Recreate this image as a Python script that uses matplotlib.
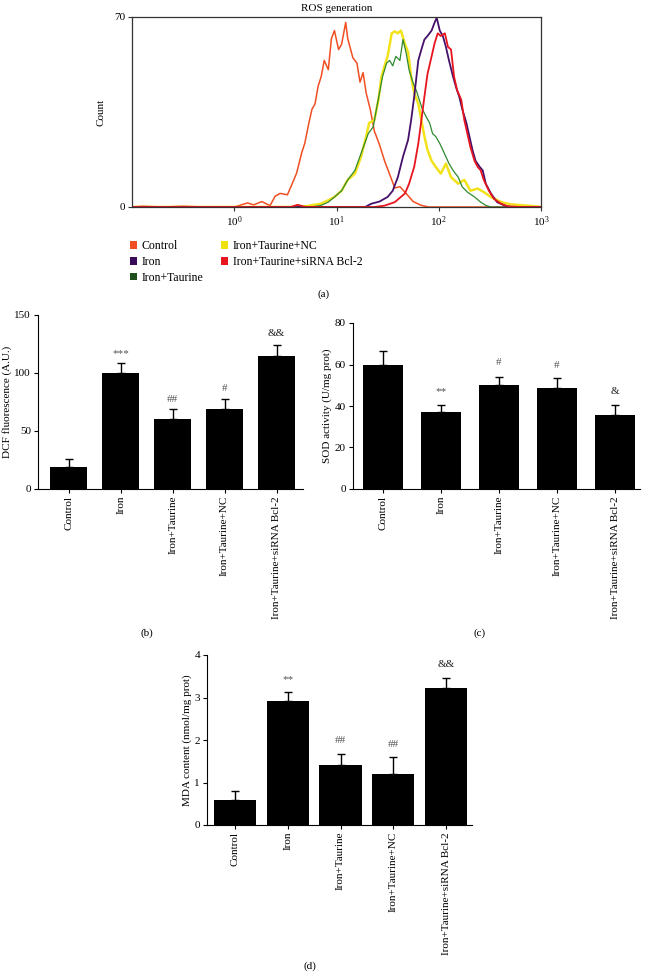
import matplotlib
matplotlib.use('Agg')
import matplotlib.pyplot as plt
from matplotlib.patches import Patch
from matplotlib.ticker import NullLocator, FixedLocator
import numpy as np

plt.rcParams['font.family'] = ['Liberation Serif', 'DejaVu Serif']
plt.rcParams['mathtext.fontset'] = 'stix'

# ---- (a) ROS histogram (log10 intensity, count) ----
ctrl_log = [-1.0, -0.9, -0.7, -0.5, -0.3, 0.0, 0.13, 0.19, 0.27, 0.35, 0.40, 0.45, 0.52, 0.56,
            0.61, 0.66, 0.69, 0.73, 0.76, 0.79, 0.82, 0.85, 0.88, 0.92, 0.95, 0.98, 1.02, 1.05,
            1.09, 1.11, 1.16, 1.20, 1.23, 1.26, 1.29, 1.33, 1.37, 1.42, 1.47, 1.52, 1.57, 1.62,
            1.68, 1.75, 1.83, 1.90, 3.0]
ctrl_cnt = [0, 0.3, 0, 0.3, 0, 0, 1.5, 0.8, 2, 0.5, 4, 5, 4.5, 8,
            12.5, 20, 23.5, 31, 36, 38, 44.5, 48, 54, 50.6, 62, 65, 58, 60,
            68, 62, 55, 53, 46, 49.5, 42, 36, 28, 23, 17, 12, 7, 7.5,
            5, 2, 0.6, 0, 0]

iron_log = [-1.0, 1.28, 1.34, 1.42, 1.50, 1.55, 1.60, 1.65, 1.70, 1.73, 1.76, 1.80, 1.83, 1.86,
            1.89, 1.93, 1.96, 1.98, 2.01, 2.04, 2.07, 2.10, 2.14, 2.17, 2.20, 2.23, 2.27, 2.30,
            2.33, 2.36, 2.40, 2.43, 2.46, 2.51, 2.57, 2.64, 2.70, 3.0]
iron_cnt = [0, 0, 1.2, 2, 3.7, 6, 11, 18.5, 24.7, 32, 40.7, 54, 58, 61.7,
            63, 65, 68, 69.7, 65, 63, 59, 54, 48, 44, 40.7, 36, 31, 26,
            21, 17, 14.8, 13.5, 8.6, 5, 1.8, 0.6, 0, 0]

sirna_log = [-1.0, 0.55, 0.62, 0.7, 1.37, 1.47, 1.57, 1.67, 1.71, 1.76, 1.80, 1.83, 1.86, 1.89,
             1.93, 1.96, 1.99, 2.02, 2.06, 2.09, 2.12, 2.15, 2.18, 2.22, 2.25, 2.28, 2.31,
             2.35, 2.38, 2.41, 2.44, 2.49, 2.54, 2.61, 2.67, 2.80, 3.0]
sirna_cnt = [0, 0, 0.8, 0, 0, 0.5, 1.8, 5, 8.6, 14.8, 23.4, 32, 40.7, 49,
             55.5, 60.4, 64, 63, 64, 59, 58, 48, 43, 39.5, 32, 27, 22,
             17, 14.8, 13.5, 10, 6, 3, 1.2, 0.3, 0, 0]

nc_log = [-1.0, 0.6, 0.71, 0.78, 0.85, 0.92, 0.98, 1.05, 1.11, 1.18, 1.24, 1.29, 1.32, 1.37,
          1.41, 1.44, 1.47, 1.50, 1.54, 1.57, 1.60, 1.63, 1.67, 1.70, 1.73, 1.76, 1.80, 1.83,
          1.86, 1.89, 1.93, 1.97, 2.02, 2.07, 2.12, 2.19, 2.25, 2.31, 2.38, 2.44, 2.51, 2.61,
          2.70, 2.83, 2.93, 3.0]
nc_cnt = [0, 0, 0.3, 0.8, 1.2, 2.5, 3.7, 6, 10, 12.3, 18.5, 26, 31, 32,
          39.5, 48, 52, 55.5, 64, 64.7, 64, 65, 60, 57, 48, 42, 38, 32,
          26, 21, 17, 14.8, 12.3, 16, 11, 8.6, 10, 6, 6.8, 5.5, 3.7, 1.8,
          1, 0.6, 0.3, 0]

taur_log = [-1.0, 0.75, 0.85, 0.92, 0.98, 1.05, 1.11, 1.18, 1.24, 1.31, 1.36, 1.39, 1.42, 1.45,
            1.49, 1.52, 1.55, 1.58, 1.62, 1.65, 1.68, 1.71, 1.75, 1.78, 1.81, 1.84, 1.88, 1.91,
            1.94, 1.97, 2.01, 2.04, 2.07, 2.10, 2.14, 2.19, 2.23, 2.28, 2.35, 2.41, 2.46, 2.51, 3.0]
taur_cnt = [0, 0, 0.6, 1.8, 3.7, 6, 10, 13.5, 19.7, 27, 29.6, 36, 42, 48,
            53, 54, 52, 55.5, 54, 61.7, 57, 50.5, 45.6, 43, 39.5, 36, 33, 31,
            27, 26, 23.4, 21, 18.5, 16, 13.5, 11, 7.4, 5.5, 3.7, 1.8, 0.6, 0, 0]

# ---- bar panels ----
groups = ['Control', 'Iron', 'Iron+Taurine', 'Iron+Taurine+NC', 'Iron+Taurine+siRNA Bcl-2']

dcf_mean = [19, 100, 60, 69, 115]
dcf_err = [7, 9, 9, 9, 9]
dcf_sig = ['', '***', '##', '#', '&&']
dcf_sig_y = [0, 117, 77, 87, 134]

sod_mean = [60, 37, 50, 48.5, 35.5]
sod_err = [6.5, 3.5, 4, 5, 5]
sod_sig = ['', '**', '#', '#', '&']
sod_sig_y = [0, 47, 61, 59.5, 47]

mda_mean = [0.6, 2.92, 1.42, 1.2, 3.22]
mda_err = [0.2, 0.2, 0.26, 0.4, 0.23]
mda_sig = ['', '**', '##', '##', '&&']
mda_sig_y = [0, 3.43, 1.98, 1.9, 3.78]

W, H = 646, 975
fig = plt.figure(figsize=(6.46, 9.75), dpi=100)


def box(l, t, r, b):
    return [l / W, 1 - b / H, (r - l) / W, (b - t) / H]


# ---------------- (a) ----------------
ax = fig.add_axes(box(132, 17, 541, 207))
ax.plot(10 ** np.array(ctrl_log), ctrl_cnt, color='#f04e23', lw=1.1)
ax.plot(10 ** np.array(nc_log), nc_cnt, color='#f2e21a', lw=1.8)
ax.plot(10 ** np.array(taur_log), taur_cnt, color='#2f8a2f', lw=0.9)
ax.plot(10 ** np.array(iron_log), iron_cnt, color='#45106a', lw=1.3)
ax.plot(10 ** np.array(sirna_log), sirna_cnt, color='#e8141e', lw=1.3)
ax.set_xscale('log')
ax.set_xlim(0.1, 1000)
ax.set_ylim(0, 70)
ax.xaxis.set_major_locator(FixedLocator([1, 10, 100, 1000]))
ax.xaxis.set_minor_locator(NullLocator())
ax.set_yticks([0, 70])
ax.tick_params(labelsize=8, length=3, width=0.8, color='#333333', pad=2)
for s in ax.spines.values():
    s.set_linewidth(0.9)
    s.set_color('#333333')
ax.set_ylabel('Count', fontsize=8, labelpad=6)
ax.set_title('ROS generation', fontsize=8, pad=4)

leg_colors = ['#f04e23', '#3a0a5a', '#1e4d1e', '#f0e010', '#e8141e']
leg_names = ['Control', 'Iron', 'Iron+Taurine', 'Iron+Taurine+NC', 'Iron+Taurine+siRNA Bcl-2']
handles = [Patch(facecolor=c, edgecolor='none', label=n) for c, n in zip(leg_colors, leg_names)]
ax.legend(handles=handles, ncol=2, loc='upper left', bbox_to_anchor=(-0.005, -0.175),
          frameon=False, fontsize=8.5, handlelength=0.6, handleheight=0.6, handletextpad=0.4,
          labelspacing=0.32, columnspacing=1.5, borderpad=0, borderaxespad=0)


def bar_panel(rect, means, errs, sigs, sig_y, ylim, yticks, ylabel, xlim, width):
    a = fig.add_axes(rect)
    x = np.arange(len(groups))
    a.bar(x, means, width=width, color='black', zorder=2)
    a.errorbar(x, means, yerr=[np.zeros(len(errs)), errs], fmt='none', ecolor='black',
               elinewidth=1.0, capsize=3, capthick=1.0, zorder=1)
    for xi, s, yv in zip(x, sigs, sig_y):
        if s:
            col = '#222222' if s.startswith('&') else '#555555'
            a.text(xi, yv, s, ha='center', va='center', fontsize=8, color=col)
    a.set_xlim(*xlim)
    a.set_ylim(*ylim)
    a.set_yticks(yticks)
    a.set_xticks(x)
    a.set_xticklabels(groups, rotation=90, fontsize=8)
    a.tick_params(axis='y', labelsize=8, length=3, width=0.8, pad=2)
    a.tick_params(axis='x', length=3, width=0.8, pad=2)
    a.spines['top'].set_visible(False)
    a.spines['right'].set_visible(False)
    for s in ['left', 'bottom']:
        a.spines[s].set_linewidth(0.8)
    a.set_ylabel(ylabel, fontsize=8, labelpad=2)
    return a


bar_panel(box(38, 315, 303, 489), dcf_mean, dcf_err, dcf_sig, dcf_sig_y, (0, 150),
          [0, 50, 100, 150], 'DCF fluorescence (A.U.)', (-0.59, 4.51), 0.71)
bar_panel(box(353, 323, 640, 489), sod_mean, sod_err, sod_sig, sod_sig_y, (0, 80),
          [0, 20, 40, 60, 80], 'SOD activity (U/mg prot)', (-0.52, 4.43), 0.70)
bar_panel(box(207, 655, 472, 825), mda_mean, mda_err, mda_sig, mda_sig_y, (0, 4),
          [0, 1, 2, 3, 4], 'MDA content (nmol/mg prot)', (-0.53, 4.49), 0.80)

for lab, px, py in [('(a)', 324, 294), ('(b)', 147, 633), ('(c)', 480, 633), ('(d)', 310, 966)]:
    fig.text(px / W, 1 - py / H, lab, ha='center', va='center', fontsize=8)

fig.savefig('out.png', dpi=100)
